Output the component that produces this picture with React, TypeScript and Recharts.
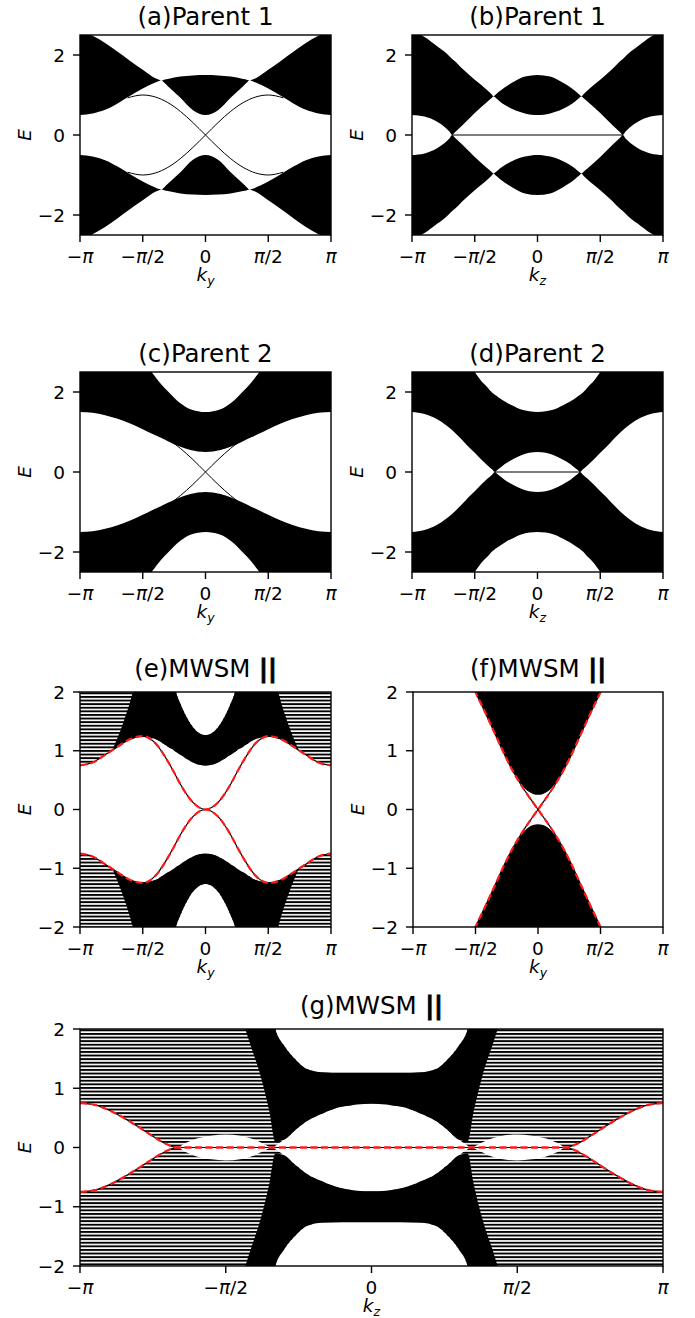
import React from 'react'
import { ComposedChart, Area, Line, XAxis, YAxis } from 'recharts'

type Band = [number, number, number][]
type Curve = [number, number][]

const FONT = '"DejaVu Sans", sans-serif'
const TICK_FS = 18.5
const TITLE_FS = 24.5

// k in units of pi
const X_TICKS = [-1, -0.5, 0, 0.5, 1]
const Y_TICKS_WIDE = [-2, 0, 2]
const Y_TICKS_NARROW = [-2, -1, 0, 1, 2]

// (a) Parent 1, k_y   [k, lower edge, upper edge]
const A_UPPER: Band = [
  [-1, 0.5, 2.6], [-0.9, 0.54, 2.48], [-0.8, 0.63, 2.3], [-0.7, 0.79, 2.08], [-0.6, 0.98, 1.85],
  [-0.5, 1.16, 1.63], [-0.4, 1.31, 1.42], [-0.37, 1.35, 1.38], [-0.35, 1.36, 1.36], [-0.33, 1.31, 1.38],
  [-0.3, 1.22, 1.4], [-0.2, 0.93, 1.46], [-0.1, 0.62, 1.49], [0, 0.5, 1.5], [0.1, 0.62, 1.49],
  [0.2, 0.93, 1.46], [0.3, 1.22, 1.4], [0.33, 1.31, 1.38], [0.35, 1.36, 1.36], [0.37, 1.35, 1.38],
  [0.4, 1.31, 1.42], [0.5, 1.16, 1.63], [0.6, 0.98, 1.85], [0.7, 0.79, 2.08], [0.8, 0.63, 2.3],
  [0.9, 0.54, 2.48], [1, 0.5, 2.6],
]
const A_LOWER: Band = [
  [-1, -2.6, -0.5], [-0.9, -2.48, -0.54], [-0.8, -2.3, -0.63], [-0.7, -2.08, -0.79], [-0.6, -1.85, -0.98],
  [-0.5, -1.63, -1.16], [-0.4, -1.42, -1.31], [-0.37, -1.38, -1.35], [-0.35, -1.36, -1.36], [-0.33, -1.38, -1.31],
  [-0.3, -1.4, -1.22], [-0.2, -1.46, -0.93], [-0.1, -1.49, -0.62], [0, -1.5, -0.5], [0.1, -1.49, -0.62],
  [0.2, -1.46, -0.93], [0.3, -1.4, -1.22], [0.33, -1.38, -1.31], [0.35, -1.36, -1.36], [0.37, -1.38, -1.35],
  [0.4, -1.42, -1.31], [0.5, -1.63, -1.16], [0.6, -1.85, -0.98], [0.7, -2.08, -0.79], [0.8, -2.3, -0.63],
  [0.9, -2.48, -0.54], [1, -2.6, -0.5],
]
const A_EDGE_RISE: Curve = [
  [-0.62, -0.93], [-0.5, -1], [-0.4, -0.95], [-0.3, -0.81], [-0.2, -0.59], [-0.1, -0.31], [0, 0],
  [0.1, 0.31], [0.2, 0.59], [0.3, 0.81], [0.4, 0.95], [0.5, 1], [0.62, 0.93],
]
const A_EDGE_FALL: Curve = [
  [-0.62, 0.93], [-0.5, 1], [-0.4, 0.95], [-0.3, 0.81], [-0.2, 0.59], [-0.1, 0.31], [0, 0],
  [0.1, -0.31], [0.2, -0.59], [0.3, -0.81], [0.4, -0.95], [0.5, -1], [0.62, -0.93],
]

// (b) Parent 1, k_z
const B_UPPER: Band = [
  [-1, 0.5, 2.6], [-0.9, 0.46, 2.45], [-0.8, 0.33, 2.22], [-0.74, 0.2, 2.08], [-0.7, 0.08, 1.96],
  [-0.68, 0, 1.9], [-0.66, 0.06, 1.85], [-0.6, 0.24, 1.66], [-0.5, 0.55, 1.38], [-0.4, 0.83, 1.12],
  [-0.37, 0.91, 1.03], [-0.35, 0.96, 0.97], [-0.33, 0.92, 1.02], [-0.3, 0.84, 1.1], [-0.2, 0.65, 1.31],
  [-0.1, 0.54, 1.46], [0, 0.5, 1.5], [0.1, 0.54, 1.46], [0.2, 0.65, 1.31], [0.3, 0.84, 1.1],
  [0.33, 0.92, 1.02], [0.35, 0.96, 0.97], [0.37, 0.91, 1.03], [0.4, 0.83, 1.12], [0.5, 0.55, 1.38],
  [0.6, 0.24, 1.66], [0.66, 0.06, 1.85], [0.68, 0, 1.9], [0.7, 0.08, 1.96], [0.74, 0.2, 2.08],
  [0.8, 0.33, 2.22], [0.9, 0.46, 2.45], [1, 0.5, 2.6],
]
const B_LOWER: Band = [
  [-1, -2.6, -0.5], [-0.9, -2.45, -0.46], [-0.8, -2.22, -0.33], [-0.74, -2.08, -0.2], [-0.7, -1.96, -0.08],
  [-0.68, -1.9, 0], [-0.66, -1.85, -0.06], [-0.6, -1.66, -0.24], [-0.5, -1.38, -0.55], [-0.4, -1.12, -0.83],
  [-0.37, -1.03, -0.91], [-0.35, -0.97, -0.96], [-0.33, -1.02, -0.92], [-0.3, -1.1, -0.84], [-0.2, -1.31, -0.65],
  [-0.1, -1.46, -0.54], [0, -1.5, -0.5], [0.1, -1.46, -0.54], [0.2, -1.31, -0.65], [0.3, -1.1, -0.84],
  [0.33, -1.02, -0.92], [0.35, -0.97, -0.96], [0.37, -1.03, -0.91], [0.4, -1.12, -0.83], [0.5, -1.38, -0.55],
  [0.6, -1.66, -0.24], [0.66, -1.85, -0.06], [0.68, -1.9, 0], [0.7, -1.96, -0.08], [0.74, -2.08, -0.2],
  [0.8, -2.22, -0.33], [0.9, -2.45, -0.46], [1, -2.6, -0.5],
]
const B_FLAT: Curve = [[-0.68, 0], [0.68, 0]]

// (c) Parent 2, k_y
const C_UPPER: Band = [
  [-1, 1.5, 3], [-0.9, 1.48, 3], [-0.8, 1.42, 3], [-0.7, 1.33, 3], [-0.6, 1.21, 2.95], [-0.5, 1.07, 2.75],
  [-0.43, 0.96, 2.5], [-0.36, 0.86, 2.22], [-0.3, 0.77, 2.02], [-0.2, 0.63, 1.72], [-0.12, 0.55, 1.57],
  [0, 0.5, 1.5], [0.12, 0.55, 1.57], [0.2, 0.63, 1.72], [0.3, 0.77, 2.02], [0.36, 0.86, 2.22],
  [0.43, 0.96, 2.5], [0.5, 1.07, 2.75], [0.6, 1.21, 2.95], [0.7, 1.33, 3], [0.8, 1.42, 3], [0.9, 1.48, 3],
  [1, 1.5, 3],
]
const C_LOWER: Band = [
  [-1, -3, -1.5], [-0.9, -3, -1.48], [-0.8, -3, -1.42], [-0.7, -3, -1.33], [-0.6, -2.95, -1.21], [-0.5, -2.75, -1.07],
  [-0.43, -2.5, -0.96], [-0.36, -2.22, -0.86], [-0.3, -2.02, -0.77], [-0.2, -1.72, -0.63], [-0.12, -1.57, -0.55],
  [0, -1.5, -0.5], [0.12, -1.57, -0.55], [0.2, -1.72, -0.63], [0.3, -2.02, -0.77], [0.36, -2.22, -0.86],
  [0.43, -2.5, -0.96], [0.5, -2.75, -1.07], [0.6, -2.95, -1.21], [0.7, -3, -1.33], [0.8, -3, -1.42], [0.9, -3, -1.48],
  [1, -3, -1.5],
]
const C_EDGE_RISE: Curve = [[-0.27, -0.76], [-0.2, -0.59], [-0.1, -0.31], [0, 0], [0.1, 0.31], [0.2, 0.59], [0.27, 0.76]]
const C_EDGE_FALL: Curve = [[-0.27, 0.76], [-0.2, 0.59], [-0.1, 0.31], [0, 0], [0.1, -0.31], [0.2, -0.59], [0.27, -0.76]]

// (d) Parent 2, k_z
const D_UPPER: Band = [
  [-1, 1.5, 3], [-0.9, 1.45, 3], [-0.8, 1.32, 3], [-0.7, 1.1, 3], [-0.6, 0.8, 2.95], [-0.55, 0.63, 2.75],
  [-0.5, 0.48, 2.5], [-0.45, 0.32, 2.28], [-0.4, 0.17, 2.12], [-0.36, 0.06, 1.98], [-0.34, 0, 1.93],
  [-0.32, 0.05, 1.89], [-0.26, 0.2, 1.76], [-0.2, 0.31, 1.66], [-0.13, 0.42, 1.56], [0, 0.5, 1.5],
  [0.13, 0.42, 1.56], [0.2, 0.31, 1.66], [0.26, 0.2, 1.76], [0.32, 0.05, 1.89], [0.34, 0, 1.93],
  [0.36, 0.06, 1.98], [0.4, 0.17, 2.12], [0.45, 0.32, 2.28], [0.5, 0.48, 2.5], [0.55, 0.63, 2.75],
  [0.6, 0.8, 2.95], [0.7, 1.1, 3], [0.8, 1.32, 3], [0.9, 1.45, 3], [1, 1.5, 3],
]
const D_LOWER: Band = [
  [-1, -3, -1.5], [-0.9, -3, -1.45], [-0.8, -3, -1.32], [-0.7, -3, -1.1], [-0.6, -2.95, -0.8], [-0.55, -2.75, -0.63],
  [-0.5, -2.5, -0.48], [-0.45, -2.28, -0.32], [-0.4, -2.12, -0.17], [-0.36, -1.98, -0.06], [-0.34, -1.93, 0],
  [-0.32, -1.89, -0.05], [-0.26, -1.76, -0.2], [-0.2, -1.66, -0.31], [-0.13, -1.56, -0.42], [0, -1.5, -0.5],
  [0.13, -1.56, -0.42], [0.2, -1.66, -0.31], [0.26, -1.76, -0.2], [0.32, -1.89, -0.05], [0.34, -1.93, 0],
  [0.36, -1.98, -0.06], [0.4, -2.12, -0.17], [0.45, -2.28, -0.32], [0.5, -2.5, -0.48], [0.55, -2.75, -0.63],
  [0.6, -2.95, -0.8], [0.7, -3, -1.1], [0.8, -3, -1.32], [0.9, -3, -1.45], [1, -3, -1.5],
]
const D_FLAT: Curve = [[-0.34, 0], [0.34, 0]]

// (e) MWSM, k_y  (full band drawn as line texture, dense part solid)
const E_UPPER: Band = [
  [-1, 0.75, 2.6], [-0.9, 0.8, 2.6], [-0.8, 0.93, 2.6], [-0.7, 1.07, 2.6], [-0.6, 1.2, 2.6], [-0.5, 1.25, 2.6],
  [-0.4, 1.2, 2.6], [-0.3, 1.07, 2.6], [-0.26, 1.02, 2.25], [-0.235, 0.98, 2], [-0.2, 0.93, 1.8],
  [-0.15, 0.86, 1.57], [-0.1, 0.8, 1.4], [-0.05, 0.76, 1.3], [0, 0.75, 1.27], [0.05, 0.76, 1.3],
  [0.1, 0.8, 1.4], [0.15, 0.86, 1.57], [0.2, 0.93, 1.8], [0.235, 0.98, 2], [0.26, 1.02, 2.25],
  [0.3, 1.07, 2.6], [0.4, 1.2, 2.6], [0.5, 1.25, 2.6], [0.6, 1.2, 2.6], [0.7, 1.07, 2.6], [0.8, 0.93, 2.6],
  [0.9, 0.8, 2.6], [1, 0.75, 2.6],
]
const E_LOWER: Band = [
  [-1, -2.6, -0.75], [-0.9, -2.6, -0.8], [-0.8, -2.6, -0.93], [-0.7, -2.6, -1.07], [-0.6, -2.6, -1.2], [-0.5, -2.6, -1.25],
  [-0.4, -2.6, -1.2], [-0.3, -2.6, -1.07], [-0.26, -2.25, -1.02], [-0.235, -2, -0.98], [-0.2, -1.8, -0.93],
  [-0.15, -1.57, -0.86], [-0.1, -1.4, -0.8], [-0.05, -1.3, -0.76], [0, -1.27, -0.75], [0.05, -1.3, -0.76],
  [0.1, -1.4, -0.8], [0.15, -1.57, -0.86], [0.2, -1.8, -0.93], [0.235, -2, -0.98], [0.26, -2.25, -1.02],
  [0.3, -2.6, -1.07], [0.4, -2.6, -1.2], [0.5, -2.6, -1.25], [0.6, -2.6, -1.2], [0.7, -2.6, -1.07], [0.8, -2.6, -0.93],
  [0.9, -2.6, -0.8], [1, -2.6, -0.75],
]
const E_DENSE_UP: Band = [
  [-0.74, 1.02, 1.02], [-0.66, 1.13, 1.45], [-0.58, 1.21, 2], [-0.52, 1.24, 2.6], [-0.4, 1.2, 2.6],
  [-0.3, 1.07, 2.6], [-0.26, 1.02, 2.25], [-0.235, 0.98, 2], [-0.2, 0.93, 1.8], [-0.15, 0.86, 1.57],
  [-0.1, 0.8, 1.4], [-0.05, 0.76, 1.3], [0, 0.75, 1.27], [0.05, 0.76, 1.3], [0.1, 0.8, 1.4],
  [0.15, 0.86, 1.57], [0.2, 0.93, 1.8], [0.235, 0.98, 2], [0.26, 1.02, 2.25], [0.3, 1.07, 2.6],
  [0.4, 1.2, 2.6], [0.52, 1.24, 2.6], [0.58, 1.21, 2], [0.66, 1.13, 1.45], [0.74, 1.02, 1.02],
]
const E_DENSE_DN: Band = [
  [-0.74, -1.02, -1.02], [-0.66, -1.45, -1.13], [-0.58, -2, -1.21], [-0.52, -2.6, -1.24], [-0.4, -2.6, -1.2],
  [-0.3, -2.6, -1.07], [-0.26, -2.25, -1.02], [-0.235, -2, -0.98], [-0.2, -1.8, -0.93], [-0.15, -1.57, -0.86],
  [-0.1, -1.4, -0.8], [-0.05, -1.3, -0.76], [0, -1.27, -0.75], [0.05, -1.3, -0.76], [0.1, -1.4, -0.8],
  [0.15, -1.57, -0.86], [0.2, -1.8, -0.93], [0.235, -2, -0.98], [0.26, -2.25, -1.02], [0.3, -2.6, -1.07],
  [0.4, -2.6, -1.2], [0.52, -2.6, -1.24], [0.58, -2, -1.21], [0.66, -1.45, -1.13], [0.74, -1.02, -1.02],
]
const E_RED_UP: Curve = [
  [-1, 0.75], [-0.9, 0.8], [-0.8, 0.93], [-0.7, 1.07], [-0.6, 1.2], [-0.5, 1.25], [-0.4, 1.13], [-0.3, 0.82],
  [-0.25, 0.63], [-0.2, 0.43], [-0.1, 0.12], [0, 0], [0.1, 0.12], [0.2, 0.43], [0.25, 0.63], [0.3, 0.82],
  [0.4, 1.13], [0.5, 1.25], [0.6, 1.2], [0.7, 1.07], [0.8, 0.93], [0.9, 0.8], [1, 0.75],
]
const E_RED_DN: Curve = [
  [-1, -0.75], [-0.9, -0.8], [-0.8, -0.93], [-0.7, -1.07], [-0.6, -1.2], [-0.5, -1.25], [-0.4, -1.13], [-0.3, -0.82],
  [-0.25, -0.63], [-0.2, -0.43], [-0.1, -0.12], [0, 0], [0.1, -0.12], [0.2, -0.43], [0.25, -0.63], [0.3, -0.82],
  [0.4, -1.13], [0.5, -1.25], [0.6, -1.2], [0.7, -1.07], [0.8, -0.93], [0.9, -0.8], [1, -0.75],
]

// (f) MWSM, k_y
const F_UPPER: Band = [
  [-0.54, 2.2, 2.6], [-0.5, 2, 2.6], [-0.42, 1.64, 2.6], [-0.34, 1.27, 2.6], [-0.26, 0.9, 2.6], [-0.2, 0.66, 2.6],
  [-0.13, 0.42, 2.6], [-0.08, 0.31, 2.6], [-0.04, 0.265, 2.6], [0, 0.25, 2.6], [0.04, 0.265, 2.6],
  [0.08, 0.31, 2.6], [0.13, 0.42, 2.6], [0.2, 0.66, 2.6], [0.26, 0.9, 2.6], [0.34, 1.27, 2.6],
  [0.42, 1.64, 2.6], [0.5, 2, 2.6], [0.54, 2.2, 2.6],
]
const F_LOWER: Band = [
  [-0.54, -2.6, -2.2], [-0.5, -2.6, -2], [-0.42, -2.6, -1.64], [-0.34, -2.6, -1.27], [-0.26, -2.6, -0.9], [-0.2, -2.6, -0.66],
  [-0.13, -2.6, -0.42], [-0.08, -2.6, -0.31], [-0.04, -2.6, -0.265], [0, -2.6, -0.25], [0.04, -2.6, -0.265],
  [0.08, -2.6, -0.31], [0.13, -2.6, -0.42], [0.2, -2.6, -0.66], [0.26, -2.6, -0.9], [0.34, -2.6, -1.27],
  [0.42, -2.6, -1.64], [0.5, -2.6, -2], [0.54, -2.6, -2.2],
]
const F_RED_FALL: Curve = [
  [-0.54, 2.2], [-0.5, 2], [-0.42, 1.64], [-0.34, 1.27], [-0.26, 0.9], [-0.2, 0.65], [-0.13, 0.4], [-0.06, 0.18],
  [0, 0], [0.06, -0.18], [0.13, -0.4], [0.2, -0.65], [0.26, -0.9], [0.34, -1.27], [0.42, -1.64], [0.5, -2], [0.54, -2.2],
]
const F_RED_RISE: Curve = [
  [-0.54, -2.2], [-0.5, -2], [-0.42, -1.64], [-0.34, -1.27], [-0.26, -0.9], [-0.2, -0.65], [-0.13, -0.4], [-0.06, -0.18],
  [0, 0], [0.06, 0.18], [0.13, 0.4], [0.2, 0.65], [0.26, 0.9], [0.34, 1.27], [0.42, 1.64], [0.5, 2], [0.54, 2.2],
]

// (g) MWSM, k_z
const G_UPPER: Band = [
  [-1, 0.75, 2.6], [-0.95, 0.72, 2.6], [-0.9, 0.63, 2.6], [-0.85, 0.5, 2.6], [-0.8, 0.35, 2.6], [-0.75, 0.19, 2.6],
  [-0.7, 0.05, 2.6], [-0.667, 0, 2.6], [-0.64, 0.07, 2.6], [-0.6, 0.15, 2.6], [-0.55, 0.2, 2.6], [-0.5, 0.22, 2.6],
  [-0.45, 0.2, 2.6], [-0.4, 0.13, 2.6], [-0.37, 0.06, 2.6], [-0.34, 0, 2.3], [-0.33, 0.03, 2], [-0.3, 0.13, 1.72],
  [-0.26, 0.3, 1.48], [-0.22, 0.45, 1.32], [-0.17, 0.57, 1.27], [-0.1, 0.69, 1.26], [0, 0.74, 1.26],
  [0.1, 0.69, 1.26], [0.17, 0.57, 1.27], [0.22, 0.45, 1.32], [0.26, 0.3, 1.48], [0.3, 0.13, 1.72],
  [0.33, 0.03, 2], [0.34, 0, 2.3], [0.37, 0.06, 2.6], [0.4, 0.13, 2.6], [0.45, 0.2, 2.6], [0.5, 0.22, 2.6],
  [0.55, 0.2, 2.6], [0.6, 0.15, 2.6], [0.64, 0.07, 2.6], [0.667, 0, 2.6], [0.7, 0.05, 2.6], [0.75, 0.19, 2.6],
  [0.8, 0.35, 2.6], [0.85, 0.5, 2.6], [0.9, 0.63, 2.6], [0.95, 0.72, 2.6], [1, 0.75, 2.6],
]
const G_LOWER: Band = [
  [-1, -2.6, -0.75], [-0.95, -2.6, -0.72], [-0.9, -2.6, -0.63], [-0.85, -2.6, -0.5], [-0.8, -2.6, -0.35], [-0.75, -2.6, -0.19],
  [-0.7, -2.6, -0.05], [-0.667, -2.6, 0], [-0.64, -2.6, -0.07], [-0.6, -2.6, -0.15], [-0.55, -2.6, -0.2], [-0.5, -2.6, -0.22],
  [-0.45, -2.6, -0.2], [-0.4, -2.6, -0.13], [-0.37, -2.6, -0.06], [-0.34, -2.3, 0], [-0.33, -2, -0.03], [-0.3, -1.72, -0.13],
  [-0.26, -1.48, -0.3], [-0.22, -1.32, -0.45], [-0.17, -1.27, -0.57], [-0.1, -1.26, -0.69], [0, -1.26, -0.74],
  [0.1, -1.26, -0.69], [0.17, -1.27, -0.57], [0.22, -1.32, -0.45], [0.26, -1.48, -0.3], [0.3, -1.72, -0.13],
  [0.33, -2, -0.03], [0.34, -2.3, 0], [0.37, -2.6, -0.06], [0.4, -2.6, -0.13], [0.45, -2.6, -0.2], [0.5, -2.6, -0.22],
  [0.55, -2.6, -0.2], [0.6, -2.6, -0.15], [0.64, -2.6, -0.07], [0.667, -2.6, 0], [0.7, -2.6, -0.05], [0.75, -2.6, -0.19],
  [0.8, -2.6, -0.35], [0.85, -2.6, -0.5], [0.9, -2.6, -0.63], [0.95, -2.6, -0.72], [1, -2.6, -0.75],
]
const G_DENSE_UP: Band = [
  [-0.47, 2.6, 2.6], [-0.42, 1.8, 2.6], [-0.38, 1.2, 2.6], [-0.35, 0.6, 2.45], [-0.33, 0.1, 2], [-0.3, 0.13, 1.72],
  [-0.26, 0.3, 1.48], [-0.22, 0.45, 1.32], [-0.17, 0.57, 1.27], [-0.1, 0.69, 1.26], [0, 0.74, 1.26],
  [0.1, 0.69, 1.26], [0.17, 0.57, 1.27], [0.22, 0.45, 1.32], [0.26, 0.3, 1.48], [0.3, 0.13, 1.72],
  [0.33, 0.1, 2], [0.35, 0.6, 2.45], [0.38, 1.2, 2.6], [0.42, 1.8, 2.6], [0.47, 2.6, 2.6],
]
const G_DENSE_DN: Band = [
  [-0.47, -2.6, -2.6], [-0.42, -2.6, -1.8], [-0.38, -2.6, -1.2], [-0.35, -2.45, -0.6], [-0.33, -2, -0.1], [-0.3, -1.72, -0.13],
  [-0.26, -1.48, -0.3], [-0.22, -1.32, -0.45], [-0.17, -1.27, -0.57], [-0.1, -1.26, -0.69], [0, -1.26, -0.74],
  [0.1, -1.26, -0.69], [0.17, -1.27, -0.57], [0.22, -1.32, -0.45], [0.26, -1.48, -0.3], [0.3, -1.72, -0.13],
  [0.33, -2, -0.1], [0.35, -2.45, -0.6], [0.38, -2.6, -1.2], [0.42, -2.6, -1.8], [0.47, -2.6, -2.6],
]
const G_RED_UP: Curve = [
  [-1, 0.75], [-0.95, 0.72], [-0.9, 0.63], [-0.85, 0.5], [-0.8, 0.35], [-0.75, 0.19], [-0.7, 0.05], [-0.667, 0],
  [0.667, 0], [0.7, 0.05], [0.75, 0.19], [0.8, 0.35], [0.85, 0.5], [0.9, 0.63], [0.95, 0.72], [1, 0.75],
]
const G_RED_DN: Curve = [
  [-1, -0.75], [-0.95, -0.72], [-0.9, -0.63], [-0.85, -0.5], [-0.8, -0.35], [-0.75, -0.19], [-0.7, -0.05], [-0.667, 0],
  [0.667, 0], [0.7, -0.05], [0.75, -0.19], [0.8, -0.35], [0.85, -0.5], [0.9, -0.63], [0.95, -0.72], [1, -0.75],
]

const toBand = (b: Band) => b.map(([k, lo, hi]) => ({ k, r: [lo, hi] }))
const toCurve = (c: Curve) => c.map(([k, e]) => ({ k, e }))

const fmtNum = (v: number) => (v < 0 ? '\u2212' + Math.abs(v) : String(v))

const PI_PARTS: Record<string, [string, boolean, string]> = {
  '-1': ['\u2212', true, ''],
  '-0.5': ['\u2212', true, '/2'],
  '0': ['0', false, ''],
  '0.5': ['', true, '/2'],
  '1': ['', true, ''],
}

function PiTick(props: any) {
  const { x, y, payload } = props
  const [pre, hasPi, post] = PI_PARTS[String(payload.value)]
  return (
    <text x={x} y={y} dy="0.71em" textAnchor="middle" fill="#000" fontSize={TICK_FS} fontFamily={FONT}>
      {pre}
      {hasPi && <tspan fontStyle="italic">π</tspan>}
      {post}
    </text>
  )
}

const band = (key: string, b: Band, fill = '#000') => (
  <Area
    key={key}
    data={toBand(b)}
    dataKey="r"
    type="monotone"
    stroke="none"
    fill={fill}
    fillOpacity={1}
    isAnimationActive={false}
    activeDot={false}
  />
)

const curve = (key: string, c: Curve, stroke: string, width: number, dash?: string) => (
  <Line
    key={key}
    data={toCurve(c)}
    dataKey="e"
    type="monotone"
    stroke={stroke}
    strokeWidth={width}
    strokeDasharray={dash}
    dot={false}
    activeDot={false}
    isAnimationActive={false}
  />
)

const RED_DASH = '7 3.5'
const LINES = 'url(#bandlines)'

type PanelSpec = {
  id: string
  left: number
  top: number
  w: number
  h: number
  yDomain: [number, number]
  yTicks: number[]
  title: string
  mwsm: boolean
  sub: string
  series: React.ReactNode[]
}

const PANELS: PanelSpec[] = [
  {
    id: 'a', left: 80, top: 35, w: 251, h: 200, yDomain: [-2.5, 2.5], yTicks: Y_TICKS_WIDE,
    title: '(a)Parent 1', mwsm: false, sub: 'y',
    series: [band('au', A_UPPER), band('al', A_LOWER), curve('ar', A_EDGE_RISE, '#000', 1), curve('af', A_EDGE_FALL, '#000', 1)],
  },
  {
    id: 'b', left: 412, top: 35, w: 251, h: 200, yDomain: [-2.5, 2.5], yTicks: Y_TICKS_WIDE,
    title: '(b)Parent 1', mwsm: false, sub: 'z',
    series: [band('bu', B_UPPER), band('bl', B_LOWER), curve('bf', B_FLAT, '#000', 1.2)],
  },
  {
    id: 'c', left: 80, top: 372, w: 251, h: 200, yDomain: [-2.5, 2.5], yTicks: Y_TICKS_WIDE,
    title: '(c)Parent 2', mwsm: false, sub: 'y',
    series: [band('cu', C_UPPER), band('cl', C_LOWER), curve('cr', C_EDGE_RISE, '#000', 1), curve('cf', C_EDGE_FALL, '#000', 1)],
  },
  {
    id: 'd', left: 412, top: 372, w: 251, h: 200, yDomain: [-2.5, 2.5], yTicks: Y_TICKS_WIDE,
    title: '(d)Parent 2', mwsm: false, sub: 'z',
    series: [band('du', D_UPPER), band('dl', D_LOWER), curve('df', D_FLAT, '#000', 1.2)],
  },
  {
    id: 'e', left: 80, top: 692, w: 251, h: 235, yDomain: [-2, 2], yTicks: Y_TICKS_NARROW,
    title: '(e)MWSM', mwsm: true, sub: 'y',
    series: [
      band('eu', E_UPPER, LINES), band('el', E_LOWER, LINES),
      band('edu', E_DENSE_UP), band('edd', E_DENSE_DN),
      curve('eku', E_RED_UP, '#000', 1.2), curve('ekd', E_RED_DN, '#000', 1.2),
      curve('eru', E_RED_UP, '#ff1a1a', 2.2, RED_DASH), curve('erd', E_RED_DN, '#ff1a1a', 2.2, RED_DASH),
    ],
  },
  {
    id: 'f', left: 413, top: 692, w: 250, h: 235, yDomain: [-2, 2], yTicks: Y_TICKS_NARROW,
    title: '(f)MWSM', mwsm: true, sub: 'y',
    series: [
      band('fu', F_UPPER), band('fl', F_LOWER),
      curve('fkf', F_RED_FALL, '#000', 1.2), curve('fkr', F_RED_RISE, '#000', 1.2),
      curve('frf', F_RED_FALL, '#ff1a1a', 2.2, RED_DASH), curve('frr', F_RED_RISE, '#ff1a1a', 2.2, RED_DASH),
    ],
  },
  {
    id: 'g', left: 80, top: 1029, w: 583, h: 237, yDomain: [-2, 2], yTicks: Y_TICKS_NARROW,
    title: '(g)MWSM', mwsm: true, sub: 'z',
    series: [
      band('gu', G_UPPER, LINES), band('gl', G_LOWER, LINES),
      band('gdu', G_DENSE_UP), band('gdd', G_DENSE_DN),
      curve('gku', G_RED_UP, '#000', 1.2), curve('gkd', G_RED_DN, '#000', 1.2),
      curve('gru', G_RED_UP, '#ff1a1a', 2.2, RED_DASH), curve('grd', G_RED_DN, '#ff1a1a', 2.2, RED_DASH),
    ],
  },
]

const ML = 60
const MT = 14
const MR = 14
const XH = 40

function Panel({ p }: { p: PanelSpec }) {
  return (
    <div style={{ position: 'absolute', left: p.left - ML, top: p.top - MT }}>
      <ComposedChart
        width={ML + p.w + MR}
        height={MT + p.h + XH}
        margin={{ top: MT, right: MR, bottom: 0, left: 0 }}
      >
        <XAxis
          dataKey="k"
          type="number"
          domain={[-1, 1]}
          ticks={X_TICKS}
          interval={0}
          allowDataOverflow
          axisLine={false}
          tickLine={{ stroke: '#000', strokeWidth: 1.4 }}
          tickSize={7}
          tickMargin={8}
          height={XH}
          tick={<PiTick />}
        />
        <YAxis
          type="number"
          domain={p.yDomain}
          ticks={p.yTicks}
          interval={0}
          allowDataOverflow
          axisLine={false}
          tickLine={{ stroke: '#000', strokeWidth: 1.4 }}
          tickSize={7}
          tickMargin={8}
          width={ML}
          tickFormatter={fmtNum}
          tick={{ fill: '#000', fontSize: TICK_FS, fontFamily: FONT }}
        />
        {p.series}
      </ComposedChart>
    </div>
  )
}

function Overlay() {
  return (
    <svg
      width={695}
      height={1318}
      style={{ position: 'absolute', left: 0, top: 0, pointerEvents: 'none' }}
      fontFamily={FONT}
    >
      {PANELS.map((p) => {
        const cx = p.left + p.w / 2
        const cy = p.top + p.h / 2
        const lx = p.left - 49
        return (
          <g key={p.id}>
            <rect x={p.left} y={p.top} width={p.w} height={p.h} fill="none" stroke="#000" strokeWidth={1.4} />
            <text x={cx} y={p.top - (p.mwsm ? 15 : 10)} textAnchor="middle" fontSize={TITLE_FS} fill="#000">
              {p.title}
              {p.mwsm && (
                <tspan fontWeight="bold" stroke="#000" strokeWidth={0.9}>
                  {' ||'}
                </tspan>
              )}
            </text>
            <text
              x={lx}
              y={cy}
              textAnchor="middle"
              fontSize={TICK_FS}
              fontStyle="italic"
              fill="#000"
              transform={`rotate(-90 ${lx} ${cy})`}
            >
              E
            </text>
            <text x={cx} y={p.top + p.h + 46} textAnchor="middle" fontSize={TICK_FS} fontStyle="italic" fill="#000">
              k
              <tspan fontSize={12.5} dy={3.5}>
                {p.sub}
              </tspan>
            </text>
          </g>
        )
      })}
    </svg>
  )
}

export default function App() {
  return (
    <div style={{ position: 'absolute', left: 0, top: 0, width: 695, height: 1318, background: '#fff' }}>
      <svg width={0} height={0} style={{ position: 'absolute' }}>
        <defs>
          <pattern id="bandlines" patternUnits="userSpaceOnUse" width={8} height={3.6}>
            <rect x={0} y={0} width={8} height={1.9} fill="#000" />
          </pattern>
        </defs>
      </svg>
      {PANELS.map((p) => (
        <Panel key={p.id} p={p} />
      ))}
      <Overlay />
    </div>
  )
}
